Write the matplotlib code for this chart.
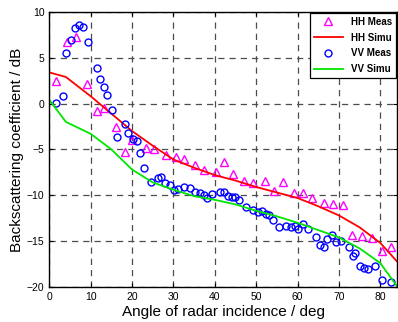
"""Backscattering coefficient vs incidence angle, HH/VV measured and simulated."""
import matplotlib
matplotlib.use("Agg")
import matplotlib.pyplot as plt

# HH measured (triangles)
hh_meas_angle = [1.6, 4.2, 6.4, 9.2, 11.4, 13.3, 16.1, 18.3, 20.1, 23.4, 25.2, 28.1,
                 30.5, 32.5, 35.2, 37.3, 40.2, 42.3, 44.5, 47.1, 49.3, 52.2, 54.3,
                 56.5, 59.2, 61.4, 63.6, 66.4, 68.6, 71.0, 73.2, 75.5, 78.0, 80.3, 82.5]
hh_meas_db = [2.5, 6.7, 7.3, 2.1, -0.8, -0.5, -2.6, -5.3, -4.0, -4.8, -5.0, -5.6,
              -5.8, -6.1, -6.7, -7.3, -7.5, -6.4, -7.7, -8.5, -8.7, -8.5, -9.5,
              -8.6, -9.8, -9.8, -10.3, -10.9, -11.0, -11.1, -14.3, -14.4, -14.7, -16.1, -15.7]

# HH simulated
hh_simu_angle = [0, 4, 10, 15, 20, 25, 30, 35, 40, 45, 50, 55, 60, 65, 70, 75, 80, 84]
hh_simu_db = [3.4, 2.9, 0.8, -1.1, -3.0, -4.6, -6.1, -7.0, -7.8, -8.4, -9.1, -9.7,
              -10.3, -11.2, -12.2, -13.5, -15.2, -17.2]

# VV measured (circles)
vv_meas_angle = [1.6, 3.2, 4.1, 5.2, 6.1, 7.1, 8.1, 9.3, 11.4, 12.2, 13.1, 14.0, 15.1,
                 16.4, 18.4, 19.1, 20.2, 21.2, 22.0, 22.9, 24.6, 26.2, 27.1, 28.0,
                 29.1, 30.2, 31.1, 32.6, 34.1, 35.2, 36.3, 37.3, 38.2, 39.4, 41.3,
                 42.3, 43.1, 44.1, 45.0, 45.9, 47.5, 49.3, 50.4, 51.4, 52.3, 53.1,
                 54.1, 55.5, 57.3, 58.4, 59.3, 60.2, 61.3, 62.5, 64.4, 65.4, 66.3,
                 67.2, 68.3, 69.2, 70.6, 72.4, 73.3, 73.9, 75.2, 76.0, 77.1, 78.7,
                 80.4, 82.5]
vv_meas_db = [0.1, 0.8, 5.5, 6.9, 8.2, 8.6, 8.4, 6.7, 3.9, 2.7, 1.8, 0.9, -0.7,
              -3.6, -2.2, -3.25, -3.9, -4.1, -5.4, -7.0, -8.6, -8.1, -8.05, -8.7,
              -8.9, -9.4, -9.3, -9.15, -9.2, -9.6, -9.8, -10.0, -10.3, -9.9, -9.7,
              -9.7, -10.1, -10.2, -10.2, -10.5, -11.3, -11.6, -11.8, -11.7, -12.0, -12.2,
              -12.7, -13.5, -13.4, -13.5, -13.4, -13.7, -13.1, -13.7, -14.6, -15.4, -15.7,
              -14.8, -14.3, -15.1, -15.0, -15.7, -16.6, -16.3, -17.7, -17.9, -18.0, -17.7,
              -19.3, -19.5]

# VV simulated
vv_simu_angle = [0, 4, 10, 15, 20, 25, 30, 35, 40, 45, 50, 55, 60, 65, 70, 75, 80, 84]
vv_simu_db = [0.4, -2.0, -3.3, -5.0, -7.2, -8.6, -9.4, -10.1, -10.5, -11.0, -11.7,
              -12.3, -13.0, -13.8, -14.6, -15.8, -17.4, -19.9]

plt.rcParams["font.family"] = ["Liberation Sans", "DejaVu Sans"]

fig = plt.figure(figsize=(3.98, 3.22), dpi=100)
ax = fig.add_axes([0.124, 0.109, 0.873, 0.854])

ax.plot(hh_meas_angle, hh_meas_db, linestyle="none", marker="^", markersize=6,
        markerfacecolor="none", markeredgecolor="#ff00ff", markeredgewidth=1.0,
        label="HH Meas")
ax.plot(hh_simu_angle, hh_simu_db, color="#ff0000", linewidth=1.3, label="HH Simu")
ax.plot(vv_meas_angle, vv_meas_db, linestyle="none", marker="o", markersize=5,
        markerfacecolor="none", markeredgecolor="#0000ff", markeredgewidth=1.0,
        label="VV Meas")
ax.plot(vv_simu_angle, vv_simu_db, color="#00e600", linewidth=1.3, label="VV Simu")

ax.set_xlim(0, 84)
ax.set_ylim(-20, 10)
ax.set_xticks(range(0, 81, 10))
ax.set_yticks(range(-20, 11, 5))
ax.grid(True, color="0.3", linestyle=(0, (5, 4)), linewidth=0.9)
ax.tick_params(direction="in", top=True, right=True, labelsize=7.5, length=3)
for spine in ax.spines.values():
    spine.set_linewidth(1.0)

ax.set_xlabel("Angle of radar incidence / deg", fontsize=11, labelpad=2)
ax.set_ylabel("Backscattering coefficient / dB", fontsize=11, labelpad=2)

leg = ax.legend(loc="upper right", prop={"weight": "bold", "size": 7},
                frameon=True, fancybox=False, borderaxespad=0.1,
                handlelength=3.0, labelspacing=0.6)
leg.get_frame().set_edgecolor("black")
leg.get_frame().set_linewidth(0.9)
leg.get_frame().set_alpha(1)

fig.savefig("out.png", dpi=100)
